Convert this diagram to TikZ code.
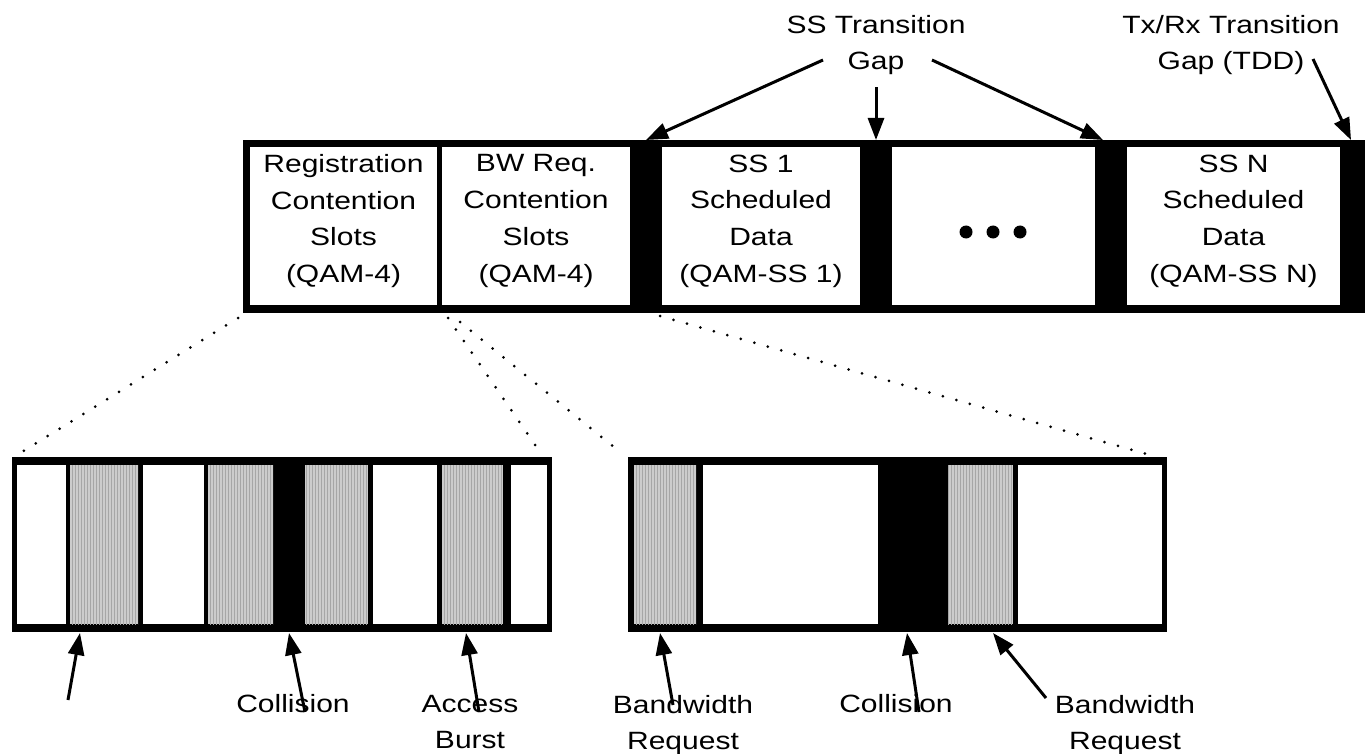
\documentclass[tikz,border=0pt]{standalone}
\usepackage{fontspec}
\setmainfont{Liberation Sans}[FakeStretch=1.2]
\usetikzlibrary{arrows.meta}
\usetikzlibrary{patterns}

\begin{document}
\begin{tikzpicture}[x=1pt,y=-1pt,
    font=\fontsize{25}{36.7}\selectfont,
    lbl/.style={inner sep=0pt, align=center},
    burst/.style={fill=black!20, postaction={pattern=vertical lines, pattern color=black!35}},
    ptr/.style={line width=3pt, -{Triangle[length=22pt,width=16pt]}},
    zoomline/.style={line width=3pt, line cap=round, dash pattern=on 0pt off 14pt}]
    \useasboundingbox (0,0) rectangle (1365,754);

    % uplink subframe
    \fill (243,140) rectangle (1365,313);
    \foreach \a/\b in {250/437, 442/630, 662/860, 892/1095, 1127/1340} {
        \fill[white] (\a,147) rectangle (\b,305);
    }
    \node[lbl] (reg) at (343.5,221) {Registration\\Contention\\Slots\\(QAM-4)};
    \node[lbl] (bwreq) at (536,221) {BW Req.\\Contention\\Slots\\(QAM-4)};
    \node[lbl] (ss1) at (761,221) {SS 1\\Scheduled\\Data\\(QAM-SS 1)};
    \node[lbl] (ssn) at (1233.5,221) {SS N\\Scheduled\\Data\\(QAM-SS N)};
    \foreach \i in {966,993,1020} {
        \fill (\i,232) circle (6.5);
    }

    \coordinate (gap1) at (646,140);
    \coordinate (gap2) at (876,140);
    \coordinate (gap3) at (1103,140);
    \coordinate (gap4) at (1351,140);

    \node[lbl] (ssgap) at (876,45) {SS Transition\\Gap};
    \node[lbl] (txgap) at (1231,45) {Tx/Rx Transition\\Gap (TDD)};
    \draw[ptr] ([shift={(-53pt,-15pt)}]ssgap.center) -- (gap1);
    \draw[ptr] ([yshift=-12pt]ssgap.south) -- (gap2);
    \draw[ptr] ([shift={(56pt,-15pt)}]ssgap.center) -- (gap3);
    \draw[ptr] ([shift={(82pt,-14pt)}]txgap.center) -- (gap4);

    % registration slots, blown up
    \fill (12,457) rectangle (552,632);
    \foreach \a/\b in {17/66, 143/204, 373/437, 511/547} {
        \fill[white] (\a,465) rectangle (\b,624);
    }
    \foreach \a/\b in {70/138, 208/273, 305/368, 442/503} {
        \path[burst] (\a,465) rectangle (\b,624);
    }

    % bw request slots, blown up
    \fill (628,457) rectangle (1167,632);
    \foreach \a/\b in {703/878, 1018/1162} {
        \fill[white] (\a,465) rectangle (\b,624);
    }
    \foreach \a/\b in {634/696, 948/1013} {
        \path[burst] (\a,465) rectangle (\b,624);
    }

    \coordinate (z1t) at (238,318);
    \coordinate (z1b) at (22,452);
    \coordinate (z2t) at (448,318);
    \coordinate (z2b) at (540,452);
    \coordinate (z3t) at (460,322);
    \coordinate (z3b) at (620,452);
    \coordinate (z4t) at (660,316);
    \coordinate (z4b) at (1150,455);
    \draw[zoomline] (z1t) -- (z1b);
    \draw[zoomline] (z2t) -- (z2b);
    \draw[zoomline] (z3t) -- (z3b);
    \draw[zoomline] (z4t) -- (z4b);

    % labels below
    \node[lbl] (coll1) at (293,704) {Collision};
    \node[lbl] (acc) at (470,722) {Access\\Burst};
    \node[lbl] (bw1) at (683,725) {Bandwidth\\Request};
    \node[lbl] (coll2) at (896,704) {Collision};
    \node[lbl] (bw2) at (1125,725) {Bandwidth\\Request};

    \coordinate (t1) at (80,633);
    \coordinate (t2) at (289,633);
    \coordinate (t3) at (466,633);
    \coordinate (t4) at (660,633);
    \coordinate (t5) at (907,633);
    \coordinate (t6) at (993,633);
    \coordinate (a1) at (68,700);

    \draw[ptr] (a1) -- (t1);
    \draw[ptr] ([shift={(12pt,-8pt)}]coll1.center) -- (t2);
    \draw[ptr] ([shift={(9pt,10pt)}]acc.center) -- (t3);
    \draw[ptr] ([shift={(-10pt,20pt)}]bw1.center) -- (t4);
    \draw[ptr] ([shift={(23pt,-8pt)}]coll2.center) -- (t5);
    \draw[ptr] ([shift={(-79pt,27pt)}]bw2.center) -- (t6);
\end{tikzpicture}
\end{document}
